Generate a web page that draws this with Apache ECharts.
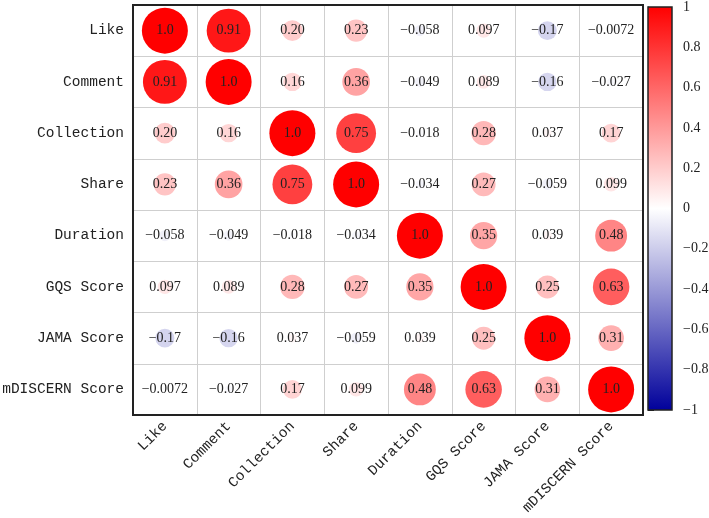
<!DOCTYPE html>
<html><head><meta charset="utf-8">
<script src="https://cdn.jsdelivr.net/npm/echarts@6/dist/echarts.min.js"></script>
<style>html,body{margin:0;padding:0;background:#fff}#c{width:709px;height:518px}</style>
</head><body><div id="c"></div>
<script>
const variables = ['Like','Comment','Collection','Share','Duration','GQS Score','JAMA Score','mDISCERN Score'];
const rLike      = [1.0, 0.91, 0.20, 0.23, -0.058, 0.097, -0.17, -0.0072];
const rComment   = [0.91, 1.0, 0.16, 0.36, -0.049, 0.089, -0.16, -0.027];
const rCollection= [0.20, 0.16, 1.0, 0.75, -0.018, 0.28, 0.037, 0.17];
const rShare     = [0.23, 0.36, 0.75, 1.0, -0.034, 0.27, -0.059, 0.099];
const rDuration  = [-0.058, -0.049, -0.018, -0.034, 1.0, 0.35, 0.039, 0.48];
const rGQS       = [0.097, 0.089, 0.28, 0.27, 0.35, 1.0, 0.25, 0.63];
const rJAMA      = [-0.17, -0.16, 0.037, -0.059, 0.039, 0.25, 1.0, 0.31];
const rMDISCERN  = [-0.0072, -0.027, 0.17, 0.099, 0.48, 0.63, 0.31, 1.0];
const colorbarTicks = [-1, -0.8, -0.6, -0.4, -0.2, 0, 0.2, 0.4, 0.6, 0.8, 1];

const rows = [rLike, rComment, rCollection, rShare, rDuration, rGQS, rJAMA, rMDISCERN];
const data = [];
rows.forEach((row, i) => row.forEach((v, j) => data.push([j, i, v])));

const fmt = v => v.toPrecision(2).replace('-', '\u2212');
const serif = 'Liberation Serif';
const axisFont = 'Liberation Mono';

const chart = echarts.init(document.getElementById('c'));
chart.setOption({
  animation: false,
  grid: [
    {left: 133, top: 5, width: 510, height: 410, outerBoundsMode: 'none', containLabel: false,
     show: true, borderColor: '#222', borderWidth: 2, backgroundColor: 'transparent', z: 5},
    {left: 648, top: 7, width: 24, height: 403, outerBoundsMode: 'none', containLabel: false}
  ],
  xAxis: [
    {type: 'category', gridIndex: 0, data: variables,
     axisLine: {show: false}, axisTick: {show: false},
     splitLine: {show: true, lineStyle: {color: '#cfcfcf', width: 1}},
     axisLabel: {rotate: 45, fontFamily: axisFont, fontSize: 14.5, color: '#222', margin: 9}},
    {type: 'value', gridIndex: 1, min: 0, max: 1, show: false}
  ],
  yAxis: [
    {type: 'category', gridIndex: 0, data: variables, inverse: true,
     axisLine: {show: false}, axisTick: {show: false},
     splitLine: {show: true, lineStyle: {color: '#cfcfcf', width: 1}},
     axisLabel: {fontFamily: axisFont, fontSize: 14.5, color: '#222', margin: 9}},
    {type: 'value', gridIndex: 1, min: -1, max: 1, interval: 0.2, position: 'right',
     axisLine: {show: true, lineStyle: {color: '#222', width: 1}}, splitLine: {show: false},
     axisTick: {show: true, inside: false, length: 6, lineStyle: {color: '#222', width: 1}},
     axisLabel: {fontFamily: serif, fontSize: 14, color: '#222', margin: 11,
       formatter: v => { const r = Math.round(v*10)/10; return (r === 0 ? '0' : String(r)).replace('-', '\u2212'); }}}
  ],
  visualMap: {
    show: false, type: 'continuous', min: -1, max: 1, dimension: 2, seriesIndex: 0,
    inRange: {color: ['#00009a', '#ffffff', '#ff0000']}
  },
  series: [
    {type: 'scatter', xAxisIndex: 0, yAxisIndex: 0, data: data,
     symbolSize: d => 46 * Math.sqrt(Math.abs(d[2])),
     itemStyle: {opacity: 1},
     label: {show: true, position: 'inside', formatter: p => fmt(p.value[2]),
             fontFamily: serif, fontSize: 14, color: '#222'}},
    {type: 'custom', xAxisIndex: 1, yAxisIndex: 1, data: [[0, colorbarTicks[0], colorbarTicks[colorbarTicks.length-1]]],
     renderItem: (params, api) => {
       const p1 = api.coord([0, api.value(2)]);
       const p2 = api.coord([1, api.value(1)]);
       return {type: 'rect', shape: {x: p1[0], y: p1[1], width: p2[0]-p1[0], height: p2[1]-p1[1]},
         style: {fill: new echarts.graphic.LinearGradient(0, 0, 0, 1, [
           {offset: 0, color: '#ff0000'}, {offset: 0.5, color: '#ffffff'}, {offset: 1, color: '#00009a'}]),
           stroke: '#222', lineWidth: 1.5}};
     }}
  ]
});
</script></body></html>
